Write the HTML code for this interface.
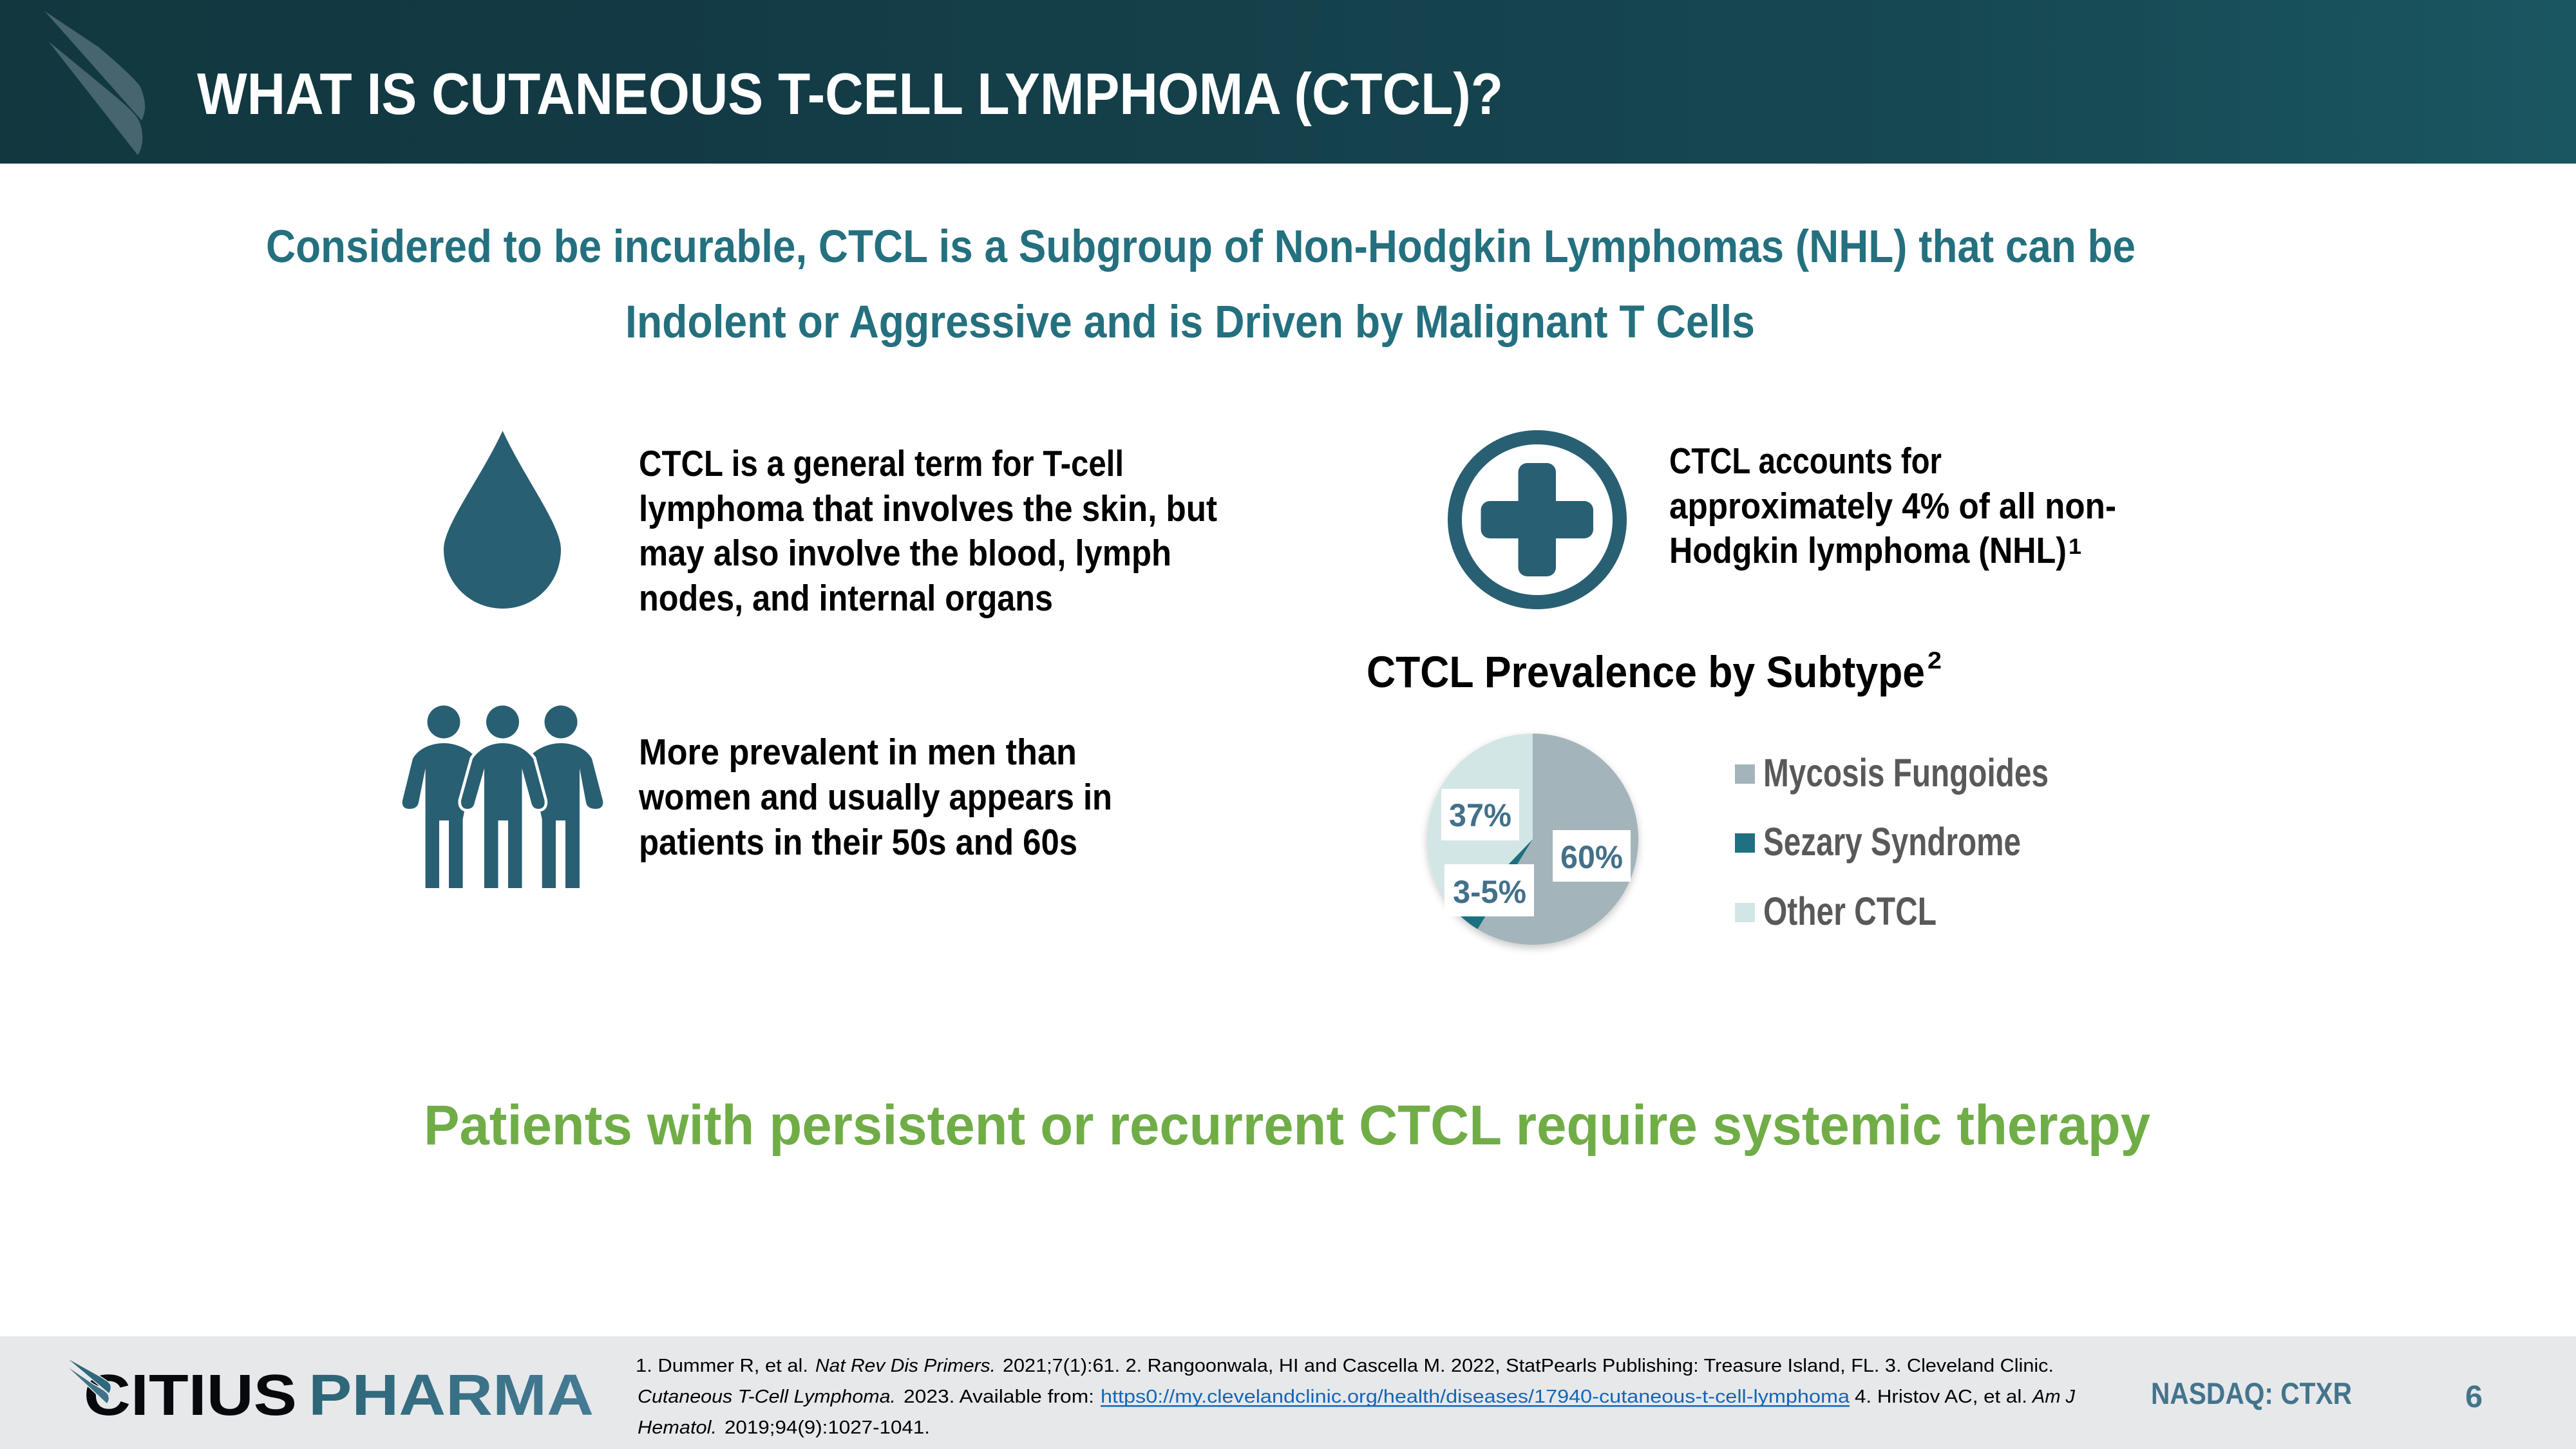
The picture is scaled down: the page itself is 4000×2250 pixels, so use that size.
<!DOCTYPE html>
<html lang="en"><head><meta charset="utf-8"><title>What is CTCL</title>
<style>
html,body{margin:0;padding:0;background:#fff;width:4000px;height:2250px;overflow:hidden}
svg{display:block}
text{font-family:"Liberation Sans",sans-serif;font-weight:700;white-space:pre}
.b{font-size:57px;fill:#000}
.s{font-size:71px;fill:#24707f}
.l{font-size:61px;fill:#595959}
.p{font-size:50px;fill:#43708a;text-anchor:start}
.c{font-size:29px;font-weight:400;fill:#000}
.i{font-style:italic}
.f{fill:#295f72}
</style></head><body>
<svg xmlns="http://www.w3.org/2000/svg" width="4000" height="2250" viewBox="0 0 4000 2250">
<defs>
<linearGradient id="h" x1="0" x2="4000" y1="0" y2="0" gradientUnits="userSpaceOnUse">
<stop offset="0" stop-color="#12373f"/><stop offset=".25" stop-color="#133a44"/><stop offset=".75" stop-color="#164852"/><stop offset="1" stop-color="#1a5661"/></linearGradient>
<linearGradient id="ph" x1="483" x2="920" y1="0" y2="0" gradientUnits="userSpaceOnUse">
<stop offset="0" stop-color="#2b6577"/><stop offset="1" stop-color="#457b94"/></linearGradient>
<filter id="sh" x="-20%" y="-20%" width="140%" height="140%"><feDropShadow dx="0" dy="5" stdDeviation="6" flood-color="#000" flood-opacity=".22"/></filter>
</defs>

<rect width="4000" height="254" fill="url(#h)"/>
<path d="M69 17 L153 73 C185 100 212 125 218 135 C226 155 228 170 220 187Z" fill="#46656e"/>
<path d="M75 64 L147 123 C185 155 212 175 217 190 C224 210 222 228 214 241Z" fill="#46656e"/>
<text x="306" y="177" font-size="91" fill="#fff" textLength="2028" lengthAdjust="spacingAndGlyphs">WHAT IS CUTANEOUS T-CELL LYMPHOMA (CTCL)?</text>

<text class="s" x="413" y="407" textLength="2903" lengthAdjust="spacingAndGlyphs">Considered to be incurable, CTCL is a Subgroup of Non-Hodgkin Lymphomas (NHL) that can be</text>
<text class="s" x="971" y="524" textLength="1754" lengthAdjust="spacingAndGlyphs">Indolent or Aggressive and is Driven by Malignant T Cells</text>

<path class="f" d="M780.5 669 C745 745 689 815 689 853 C689 905 730 945 780.5 945 C831 945 871 905 871 853 C871 815 816 745 780.5 669Z"/>
<text class="b" x="992" y="739" textLength="753" lengthAdjust="spacingAndGlyphs">CTCL is a general term for T-cell</text>
<text class="b" x="992" y="809" textLength="898" lengthAdjust="spacingAndGlyphs">lymphoma that involves the skin, but</text>
<text class="b" x="992" y="878" textLength="827" lengthAdjust="spacingAndGlyphs">may also involve the blood, lymph</text>
<text class="b" x="992" y="948" textLength="643" lengthAdjust="spacingAndGlyphs">nodes, and internal organs</text>

<circle class="f" cx="689" cy="1121" r="25.5"/><circle class="f" cx="780.5" cy="1121" r="25.5"/><circle class="f" cx="871" cy="1121" r="25.5"/>
<path class="f" d="M641 1178 C650 1162 670 1154 689 1154 C705 1154 722 1160 735 1172 L722 1255 L718.6 1272 V1379 H697 V1274 H682 V1379 H660.6 V1193 L650 1246 Q648 1256 636 1256 Q623 1256 625 1243Z"/>
<path class="f" d="M919 1178 C910 1162 890 1154 871 1154 C855 1154 838 1160 825 1172 L838 1255 L841.7 1272 V1379 H863 V1274 H878 V1379 H900 V1193 L910 1246 Q912 1256 925 1256 Q938 1256 936 1243Z"/>
<path class="f" stroke="#fff" stroke-width="9" paint-order="stroke" d="M734 1178 C745 1162 762 1154 780.5 1154 C799 1154 816 1162 828 1178 L845.5 1243 Q847 1256 836 1256 Q827 1256 825 1246 L810.5 1193 V1379 H789 V1274 H773.5 V1379 H752 V1193 L737 1246 Q735 1256 726 1256 Q715 1256 716 1243Z"/>
<text class="b" x="992" y="1187" textLength="680" lengthAdjust="spacingAndGlyphs">More prevalent in men than</text>
<text class="b" x="992" y="1257" textLength="735" lengthAdjust="spacingAndGlyphs">women and usually appears in</text>
<text class="b" x="992" y="1327" textLength="681" lengthAdjust="spacingAndGlyphs">patients in their 50s and 60s</text>

<circle cx="2387" cy="807" r="128" fill="none" stroke="#295f72" stroke-width="22"/>
<rect class="f" x="2357.5" y="719" width="58.5" height="176" rx="14"/>
<rect class="f" x="2299.5" y="778" width="174.5" height="58" rx="14"/>
<text class="b" x="2592" y="735" textLength="423" lengthAdjust="spacingAndGlyphs">CTCL accounts for</text>
<text class="b" x="2592" y="805" textLength="694" lengthAdjust="spacingAndGlyphs">approximately 4% of all non-</text>
<text class="b" x="2592" y="874" textLength="617" lengthAdjust="spacingAndGlyphs">Hodgkin lymphoma (NHL)</text>
<text x="3212" y="860" font-size="34" fill="#000" textLength="20" lengthAdjust="spacingAndGlyphs">1</text>

<text x="2122" y="1067" font-size="69" fill="#000" textLength="867" lengthAdjust="spacingAndGlyphs">CTCL Prevalence by Subtype</text>
<text x="2993" y="1038" font-size="37" fill="#000" textLength="22" lengthAdjust="spacingAndGlyphs">2</text>

<g filter="url(#sh)">
<path d="M2380 1303 L2380 1139 A164 164 0 1 1 2294.3 1442.8Z" fill="#a3b5bb"/>
<path d="M2380 1303 L2294.3 1442.8 A164 164 0 0 1 2266 1421Z" fill="#1f7080"/>
<path d="M2380 1303 L2266 1421 A164 164 0 0 1 2380 1139Z" fill="#d3e6e6"/>
</g>
<rect x="2238" y="1225" width="121" height="80" fill="#fff"/>
<rect x="2411" y="1289" width="121" height="80" fill="#fff"/>
<rect x="2243" y="1342" width="139" height="81" fill="#fff"/>
<text class="p" x="2250" y="1283" textLength="97" lengthAdjust="spacingAndGlyphs">37%</text>
<text class="p" x="2423" y="1348" textLength="97" lengthAdjust="spacingAndGlyphs">60%</text>
<text class="p" x="2256" y="1402" textLength="114" lengthAdjust="spacingAndGlyphs">3-5%</text>

<rect x="2694" y="1187" width="31" height="30" fill="#a3b5bb"/>
<rect x="2694" y="1294" width="31" height="30" fill="#1f7080"/>
<rect x="2694" y="1402" width="31" height="30" fill="#d3e6e6"/>
<text class="l" x="2738" y="1221" textLength="443" lengthAdjust="spacingAndGlyphs">Mycosis Fungoides</text>
<text class="l" x="2738" y="1328" textLength="400" lengthAdjust="spacingAndGlyphs">Sezary Syndrome</text>
<text class="l" x="2738" y="1436" textLength="269" lengthAdjust="spacingAndGlyphs">Other CTCL</text>

<text x="658" y="1777" font-size="87" fill="#70ad47" textLength="2681" lengthAdjust="spacingAndGlyphs">Patients with persistent or recurrent CTCL require systemic therapy</text>

<rect y="2075" width="4000" height="175" fill="#e7e8ea"/>
<text x="130" y="2197" font-size="90" fill="#07090c" textLength="331" lengthAdjust="spacingAndGlyphs">CITIUS</text>
<text x="479" y="2197" font-size="90" fill="url(#ph)" textLength="443" lengthAdjust="spacingAndGlyphs">PHARMA</text>
<path d="M107 2111 L150 2135 Q168 2145 171 2150 Q173 2157 169 2163Z" fill="#2f687c" stroke="#e7e8ea" stroke-width="3" paint-order="stroke"/>
<path d="M107 2124 L145 2150 Q164 2160 167 2165 Q171 2172 166 2179Z" fill="#3f7389" stroke="#e7e8ea" stroke-width="3" paint-order="stroke"/>

<text class="c" x="987" y="2130" textLength="268" lengthAdjust="spacingAndGlyphs">1. Dummer R, et al.</text>
<text class="c i" x="1266" y="2130" textLength="280" lengthAdjust="spacingAndGlyphs">Nat Rev Dis Primers.</text>
<text class="c" x="1557" y="2130" textLength="1632" lengthAdjust="spacingAndGlyphs">2021;7(1):61. 2. Rangoonwala, HI and Cascella M. 2022, StatPearls Publishing: Treasure Island, FL. 3. Cleveland Clinic.</text>
<text class="c i" x="990" y="2178" textLength="401" lengthAdjust="spacingAndGlyphs">Cutaneous T-Cell Lymphoma.</text>
<text class="c" x="1403" y="2178" textLength="296" lengthAdjust="spacingAndGlyphs">2023. Available from:</text>
<text class="c" x="1709" y="2178" textLength="1163" lengthAdjust="spacingAndGlyphs" style="fill:#1565b5">https0://my.clevelandclinic.org/health/diseases/17940-cutaneous-t-cell-lymphoma</text>
<rect x="1709" y="2182" width="1163" height="2.5" fill="#1565b5"/>
<text class="c" x="2880" y="2178" textLength="268" lengthAdjust="spacingAndGlyphs">4. Hristov AC, et al.</text>
<text class="c i" x="3156" y="2178" textLength="66" lengthAdjust="spacingAndGlyphs">Am J</text>
<text class="c i" x="990" y="2226" textLength="123" lengthAdjust="spacingAndGlyphs">Hematol.</text>
<text class="c" x="1125" y="2226" textLength="319" lengthAdjust="spacingAndGlyphs">2019;94(9):1027-1041.</text>

<text x="3340" y="2180" font-size="47" fill="#43748c" textLength="312" lengthAdjust="spacingAndGlyphs">NASDAQ: CTXR</text>
<text x="3828" y="2185" font-size="48" fill="#43748c" textLength="27" lengthAdjust="spacingAndGlyphs">6</text>
</svg>
</body></html>
